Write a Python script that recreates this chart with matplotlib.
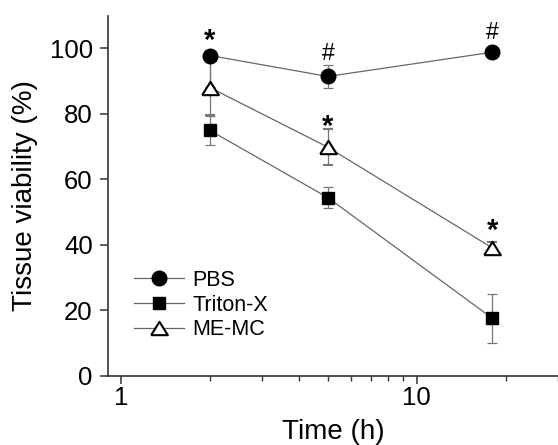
import matplotlib.pyplot as plt
from matplotlib.ticker import LogLocator, NullFormatter, FixedLocator

plt.rcParams['font.family'] = ['Liberation Sans', 'DejaVu Sans']

# Данные
time_h = [2, 5, 18]
pbs = [97.8, 91.4, 98.8]
pbs_err_lo = [9.5, 3.6, 0.8]
pbs_err_hi = [0.0, 3.6, 0.8]  # верхняя часть у 2 ч не видна
triton = [74.9, 54.4, 17.5]
triton_err = [4.5, 3.25, 7.5]
memc = [88.0, 69.8, 39.0]
memc_err = [8.5, 5.6, 1.8]

# Метки значимости
marks_x = [2, 5, 18, 5, 18]
marks_y = [102.3, 98.5, 104.8, 76.0, 44.2]
marks_txt = ['*', '#', '#', '*', '*']

# Треугольник шире, чем выше (как на исходном рисунке)
tri = [(-1, -0.8), (1, -0.8), (0, 0.8), (-1, -0.8)]

fig = plt.figure(figsize=(5.58, 4.45), dpi=100)
ax = fig.add_axes([0.193, 0.156, 0.807, 0.809])

line_kw = dict(color='#666666', lw=0.9, elinewidth=0.9, ecolor='#777777',
               capsize=3.5, capthick=0.9)
c1 = ax.errorbar(time_h, pbs, yerr=[pbs_err_lo, pbs_err_hi], marker='o',
                 ms=10.5, mfc='black', mec='black', **line_kw)
c2 = ax.errorbar(time_h, triton, yerr=triton_err, marker='s', ms=9,
                 mfc='black', mec='black', **line_kw)
c3 = ax.errorbar(time_h, memc, yerr=memc_err, marker=tri, ms=12, mfc='white',
                 mec='black', mew=1.5, **line_kw)

for x, y, t in zip(marks_x, marks_y, marks_txt):
    if t == '*':
        ax.text(x, y, t, ha='center', va='center', fontsize=21,
                fontweight='bold')
    else:
        ax.text(x, y, t, ha='center', va='center', fontsize=16.5)

ax.set_xscale('log')
ax.set_xlim(0.902, 30)
ax.set_ylim(0, 110)
ax.xaxis.set_major_locator(FixedLocator([1, 10]))
ax.xaxis.set_major_formatter(plt.FuncFormatter(lambda v, p: '%d' % v))
ax.xaxis.set_minor_locator(LogLocator(base=10, subs=range(2, 10)))
ax.xaxis.set_minor_formatter(NullFormatter())
ax.set_yticks([0, 20, 40, 60, 80, 100])

for s in ['top', 'right']:
    ax.spines[s].set_visible(False)
for s in ['left', 'bottom']:
    ax.spines[s].set_linewidth(1.2)
    ax.spines[s].set_color('#333333')
ax.tick_params(which='major', direction='out', length=5.8, width=1.1,
               labelsize=18.5, color='#333333')
ax.tick_params(axis='y', pad=5)
ax.tick_params(axis='x', pad=2)
ax.tick_params(which='minor', direction='out', length=3.5, width=1.0,
               color='#333333')

ax.set_xlabel('Time (h)', fontsize=20, labelpad=6)
ax.set_ylabel('Tissue viability (%)', fontsize=20, labelpad=8)

ax.legend([c1[0], c2[0], c3[0]], ['PBS', 'Triton-X', 'ME-MC'],
          loc='upper left', bbox_to_anchor=(0.0346, 0.324), frameon=False,
          fontsize=15.5, handlelength=2.3, handletextpad=0.4, labelspacing=0.18,
          borderpad=0)

plt.savefig('out.png', dpi=100)
